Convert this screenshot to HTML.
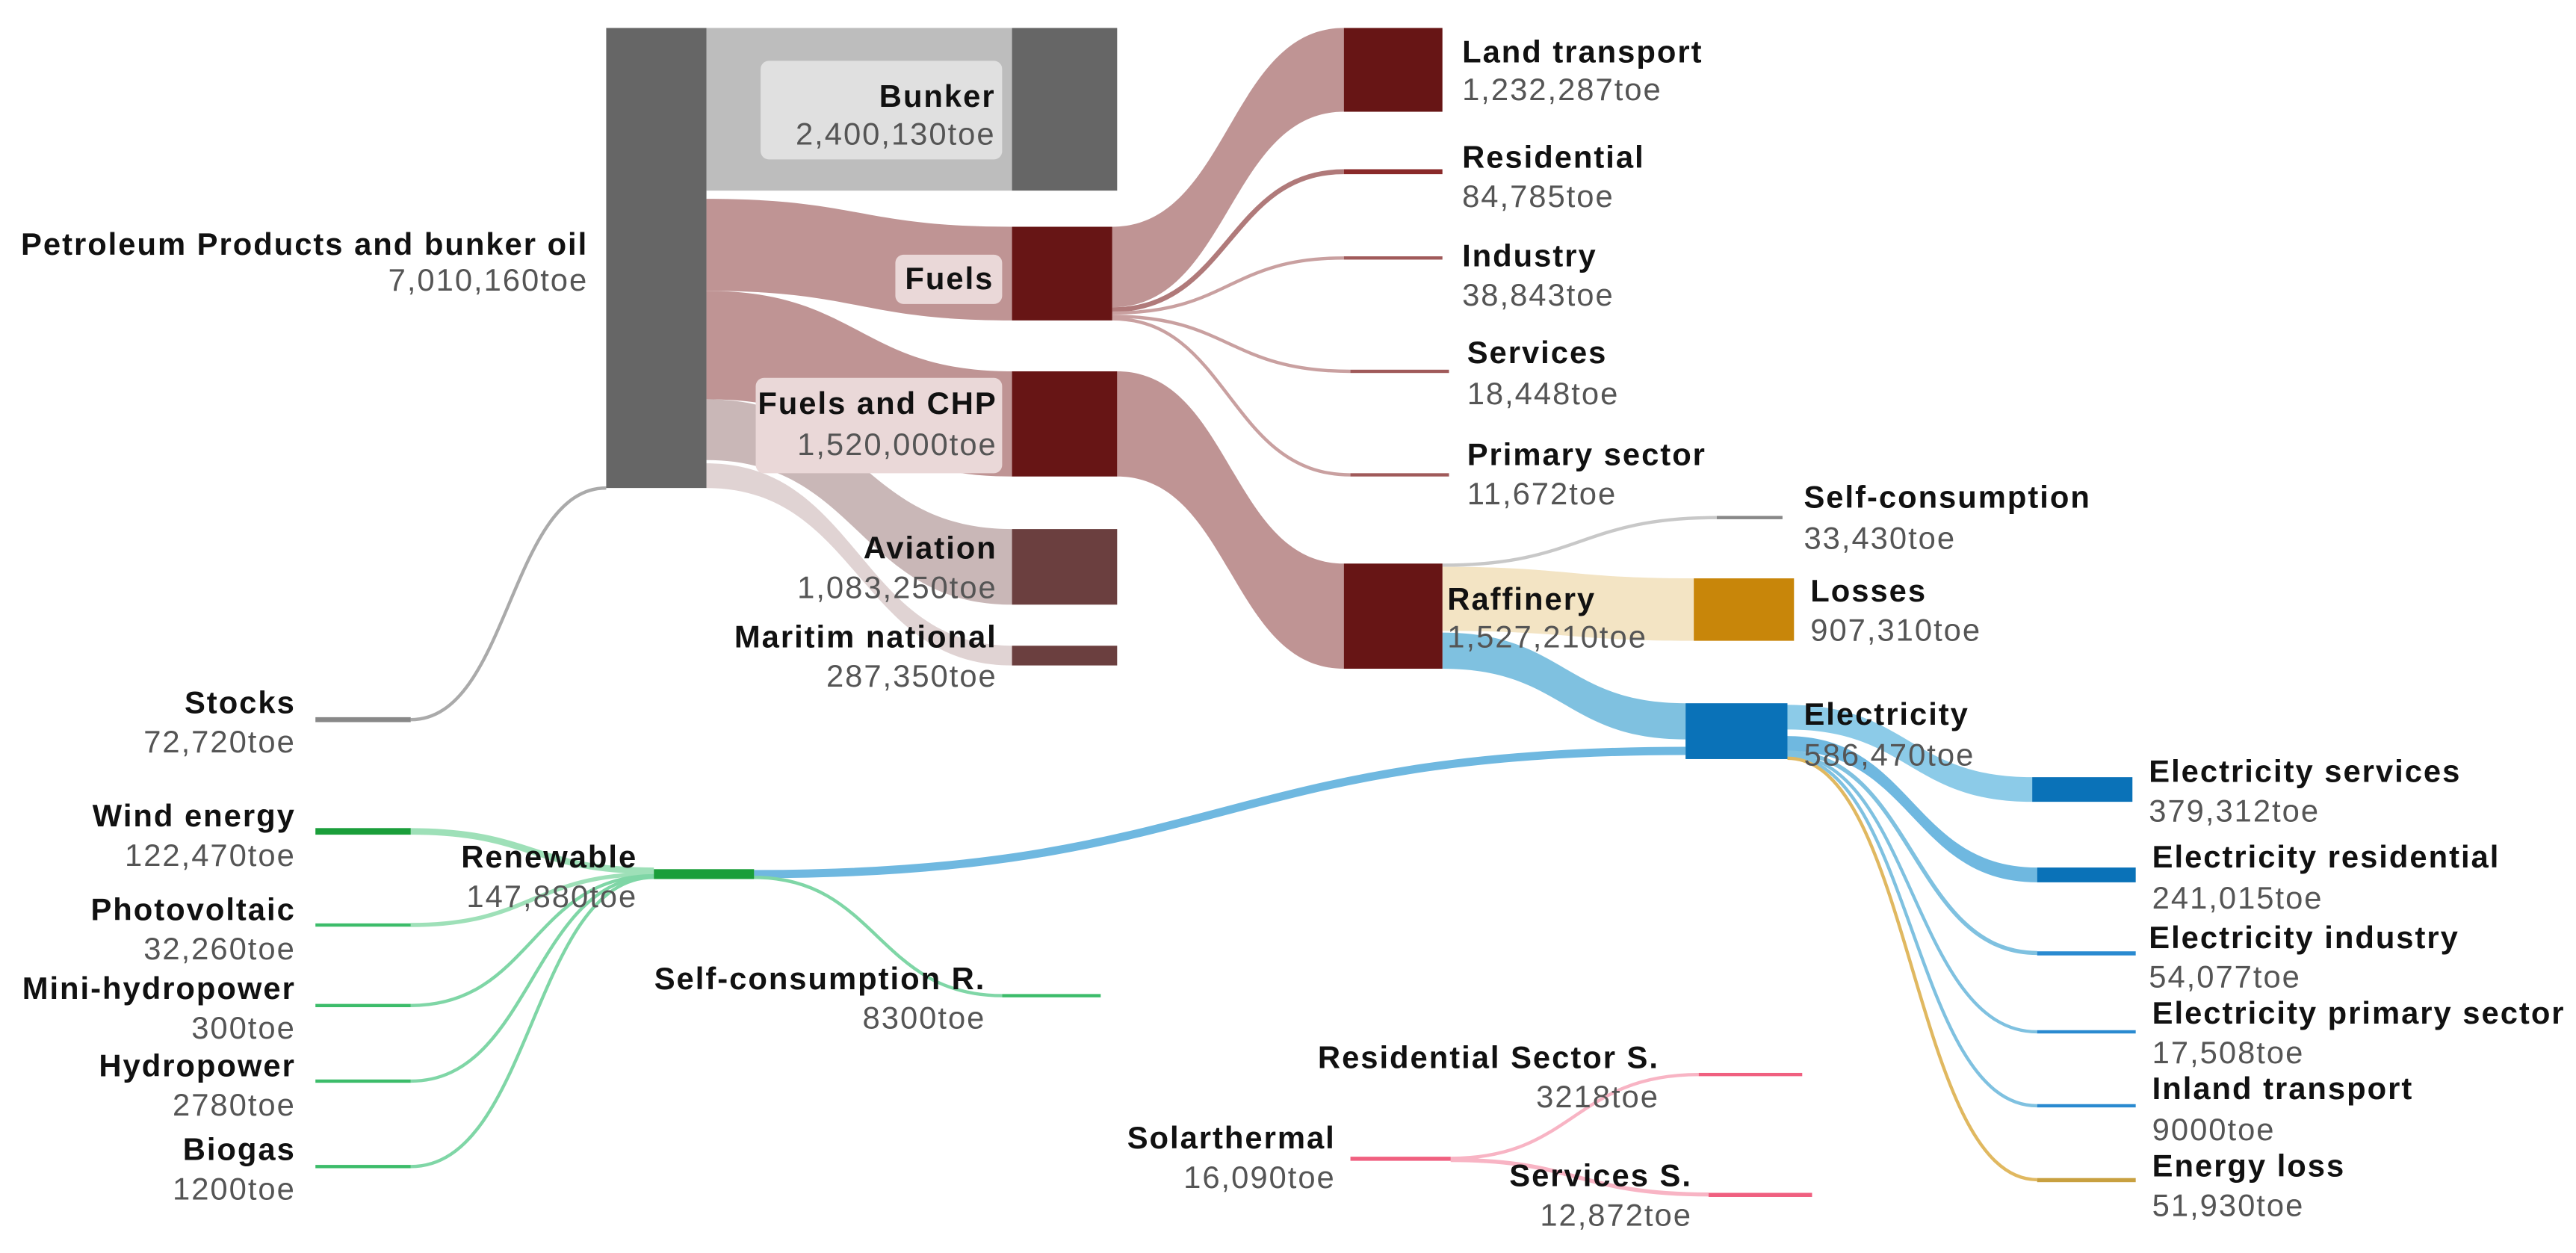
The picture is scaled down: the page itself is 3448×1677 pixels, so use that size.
<!DOCTYPE html>
<html><head><meta charset="utf-8"><style>
html,body{margin:0;padding:0;background:#fff;}
svg{display:block;}
text{font-family:"Liberation Sans",sans-serif;font-size:19px;letter-spacing:0.9px;}
.n{font-weight:bold;fill:#111;}
.v{fill:#555;}
.r{text-anchor:end;}
</style></head><body>
<svg width="3448" height="1677" viewBox="0 0 1568 762.6" xmlns="http://www.w3.org/2000/svg">
<path d="M430 17 L616 17 L616 116 L430 116 Z" fill="#bdbdbd"/>
<path d="M430 121 C523 121 523 138 616 138 L616 195 C523 195 523 177 430 177 Z" fill="#bf9494"/>
<path d="M430 177 C523 177 523 226 616 226 L616 290 C523 290 523 243 430 243 Z" fill="#bf9494"/>
<path d="M430 243 C523 243 523 322 616 322 L616 368 C523 368 523 280 430 280 Z" fill="#c9b7b7"/>
<path d="M430 282 C523 282 523 393 616 393 L616 405 C523 405 523 297 430 297 Z" fill="#e0d3d3"/>
<path d="M250 438 C310 438 310 297 369 297" fill="none" stroke="#aaa" stroke-width="2"/>
<line x1="192" y1="438" x2="250" y2="438" stroke="#888" stroke-width="3"/>
<path d="M677 138 C748 138 748 17 818 17 L818 68 C748 68 748 187 677 187 Z" fill="#bf9494"/>
<path d="M677 188.5 C748 188.5 748 104.5 818 104.5" fill="none" stroke="#b07a7a" stroke-width="3"/>
<path d="M677 190.5 C748 190.5 748 157 818 157" fill="none" stroke="#c9a0a0" stroke-width="2"/>
<path d="M677 192.5 C748 192.5 748 226 822 226" fill="none" stroke="#c9a0a0" stroke-width="2"/>
<path d="M677 194 C748 194 748 289 822 289" fill="none" stroke="#c9a0a0" stroke-width="2"/>
<path d="M680 226 C749 226 749 343 818 343 L818 407 C749 407 749 290 680 290 Z" fill="#bf9494"/>
<path d="M878 344 C962 344 962 315 1045 315" fill="none" stroke="#c8c8c8" stroke-width="2"/>
<path d="M878 345 C955 345 955 352 1031 352 L1031 390 C955 390 955 384 878 384 Z" fill="#f3e4c4"/>
<path d="M878 385 C952 385 952 428 1026 428 L1026 450 C952 450 952 407 878 407 Z" fill="#7fc1e0"/>
<path d="M459 532 C742 532 742 457 1026 457" fill="none" stroke="#6fb8e0" stroke-width="5"/>
<path d="M1088 429 C1162 429 1162 473 1237 473 L1237 488 C1162 488 1162 444 1088 444 Z" fill="#8ccbe8"/>
<path d="M1088 448 C1164 448 1164 528 1240 528 L1240 537 C1164 537 1164 457 1088 457 Z" fill="#6fb8e0"/>
<path d="M1088 458 C1164 458 1164 580 1240 580" fill="none" stroke="#7fc1e0" stroke-width="2.5"/>
<path d="M1088 459.5 C1164 459.5 1164 628 1240 628" fill="none" stroke="#7fc1e0" stroke-width="2"/>
<path d="M1088 460.5 C1164 460.5 1164 673 1240 673" fill="none" stroke="#7fc1e0" stroke-width="2"/>
<path d="M1088 461.5 C1164 461.5 1164 718 1240 718" fill="none" stroke="#e0b860" stroke-width="2"/>
<path d="M250 506 C324 506 324 530 398 530" fill="none" stroke="#9ee0b8" stroke-width="4"/>
<path d="M250 563 C324 563 324 532 398 532" fill="none" stroke="#9ee0b8" stroke-width="2.5"/>
<path d="M250 612 C324 612 324 533 398 533" fill="none" stroke="#7fd6a6" stroke-width="2"/>
<path d="M250 658 C324 658 324 533.5 398 533.5" fill="none" stroke="#7fd6a6" stroke-width="2"/>
<path d="M250 710 C324 710 324 534 398 534" fill="none" stroke="#7fd6a6" stroke-width="2"/>
<path d="M459 534 C534 534 534 606 610 606" fill="none" stroke="#7fd6a6" stroke-width="2"/>
<path d="M883 705 C958 705 958 654 1034 654" fill="none" stroke="#f8b4c4" stroke-width="2"/>
<path d="M883 706 C960 706 960 727 1040 727" fill="none" stroke="#f8b4c4" stroke-width="2.5"/>
<rect x="369" y="17" width="61" height="280" fill="#666"/>
<rect x="616" y="17" width="64" height="99" fill="#666"/>
<rect x="616" y="138" width="61" height="57" fill="#671515"/>
<rect x="616" y="226" width="64" height="64" fill="#671515"/>
<rect x="616" y="322" width="64" height="46" fill="#6b3f3f"/>
<rect x="616" y="393" width="64" height="12" fill="#6b3f3f"/>
<rect x="818" y="17" width="60" height="51" fill="#671515"/>
<rect x="818" y="103" width="60" height="3" fill="#8a2a2a"/>
<rect x="818" y="156" width="60" height="2" fill="#a05a5a"/>
<rect x="822" y="225" width="60" height="2" fill="#a05a5a"/>
<rect x="822" y="288" width="60" height="2" fill="#a05a5a"/>
<rect x="818" y="343" width="60" height="64" fill="#671515"/>
<rect x="1045" y="314" width="40" height="2" fill="#888"/>
<rect x="1031" y="352" width="61" height="38" fill="#c8860a"/>
<rect x="1026" y="428" width="62" height="34" fill="#0a72b8"/>
<rect x="1237" y="473" width="61" height="15" fill="#0a72b8"/>
<rect x="1240" y="528" width="60" height="9" fill="#0a72b8"/>
<rect x="1240" y="579" width="60" height="2.5" fill="#2a8ad0"/>
<rect x="1240" y="627" width="60" height="2" fill="#2a8ad0"/>
<rect x="1240" y="672" width="60" height="2" fill="#2a8ad0"/>
<rect x="1240" y="717" width="60" height="2.5" fill="#c8a040"/>
<rect x="398" y="529" width="61" height="6" fill="#1a9e3a"/>
<rect x="192" y="504" width="58" height="4" fill="#1a9e3a"/>
<rect x="192" y="562" width="58" height="2" fill="#3cbc6a"/>
<rect x="192" y="611" width="58" height="2" fill="#3cbc6a"/>
<rect x="192" y="657" width="58" height="2" fill="#3cbc6a"/>
<rect x="192" y="709" width="58" height="2" fill="#3cbc6a"/>
<rect x="610" y="605" width="60" height="2" fill="#3cbc6a"/>
<rect x="822" y="704" width="61" height="2.5" fill="#f06080"/>
<rect x="1034" y="653" width="63" height="2" fill="#f06080"/>
<rect x="1040" y="726" width="63" height="2.5" fill="#f06080"/>
<rect x="463" y="37" width="147" height="60" rx="5" fill="#e0e0e0"/>
<rect x="545" y="155" width="65" height="30" rx="5" fill="#ead8d8"/>
<rect x="460" y="230" width="150" height="58" rx="5" fill="#ead8d8"/>
<text class="n r" x="358" y="155">Petroleum Products and bunker oil</text>
<text class="v r" x="358" y="177">7,010,160toe</text>
<text class="n r" x="606" y="65">Bunker</text>
<text class="v r" x="606" y="88">2,400,130toe</text>
<text class="n r" x="605" y="176">Fuels</text>
<text class="n r" x="607" y="252">Fuels and CHP</text>
<text class="v r" x="607" y="277">1,520,000toe</text>
<text class="n r" x="607" y="340">Aviation</text>
<text class="v r" x="607" y="364">1,083,250toe</text>
<text class="n r" x="607" y="394">Maritim national</text>
<text class="v r" x="607" y="418">287,350toe</text>
<text class="n" x="890" y="38">Land transport</text>
<text class="v" x="890" y="61">1,232,287toe</text>
<text class="n" x="890" y="102">Residential</text>
<text class="v" x="890" y="126">84,785toe</text>
<text class="n" x="890" y="162">Industry</text>
<text class="v" x="890" y="186">38,843toe</text>
<text class="n" x="893" y="221">Services</text>
<text class="v" x="893" y="246">18,448toe</text>
<text class="n" x="893" y="283">Primary sector</text>
<text class="v" x="893" y="307">11,672toe</text>
<text class="n" x="1098" y="309">Self-consumption</text>
<text class="v" x="1098" y="334">33,430toe</text>
<text class="n" x="881" y="371">Raffinery</text>
<text class="v" x="881" y="394">1,527,210toe</text>
<text class="n" x="1102" y="366">Losses</text>
<text class="v" x="1102" y="390">907,310toe</text>
<text class="n" x="1098" y="441">Electricity</text>
<text class="v" x="1098" y="466">586,470toe</text>
<text class="n" x="1308" y="476">Electricity services</text>
<text class="v" x="1308" y="500">379,312toe</text>
<text class="n" x="1310" y="528">Electricity residential</text>
<text class="v" x="1310" y="553">241,015toe</text>
<text class="n" x="1308" y="577">Electricity industry</text>
<text class="v" x="1308" y="601">54,077toe</text>
<text class="n" x="1310" y="623">Electricity primary sector</text>
<text class="v" x="1310" y="647">17,508toe</text>
<text class="n" x="1310" y="669">Inland transport</text>
<text class="v" x="1310" y="694">9000toe</text>
<text class="n" x="1310" y="716">Energy loss</text>
<text class="v" x="1310" y="740">51,930toe</text>
<text class="n r" x="180" y="434">Stocks</text>
<text class="v r" x="180" y="458">72,720toe</text>
<text class="n r" x="180" y="503">Wind energy</text>
<text class="v r" x="180" y="527">122,470toe</text>
<text class="n r" x="180" y="560">Photovoltaic</text>
<text class="v r" x="180" y="584">32,260toe</text>
<text class="n r" x="180" y="608">Mini-hydropower</text>
<text class="v r" x="180" y="632">300toe</text>
<text class="n r" x="180" y="655">Hydropower</text>
<text class="v r" x="180" y="679">2780toe</text>
<text class="n r" x="180" y="706">Biogas</text>
<text class="v r" x="180" y="730">1200toe</text>
<text class="n r" x="388" y="528">Renewable</text>
<text class="v r" x="388" y="552">147,880toe</text>
<text class="n r" x="600" y="602">Self-consumption R.</text>
<text class="v r" x="600" y="626">8300toe</text>
<text class="n r" x="813" y="699">Solarthermal</text>
<text class="v r" x="813" y="723">16,090toe</text>
<text class="n r" x="1010" y="650">Residential Sector S.</text>
<text class="v r" x="1010" y="674">3218toe</text>
<text class="n r" x="1030" y="722">Services S.</text>
<text class="v r" x="1030" y="746">12,872toe</text>
</svg>
</body></html>
